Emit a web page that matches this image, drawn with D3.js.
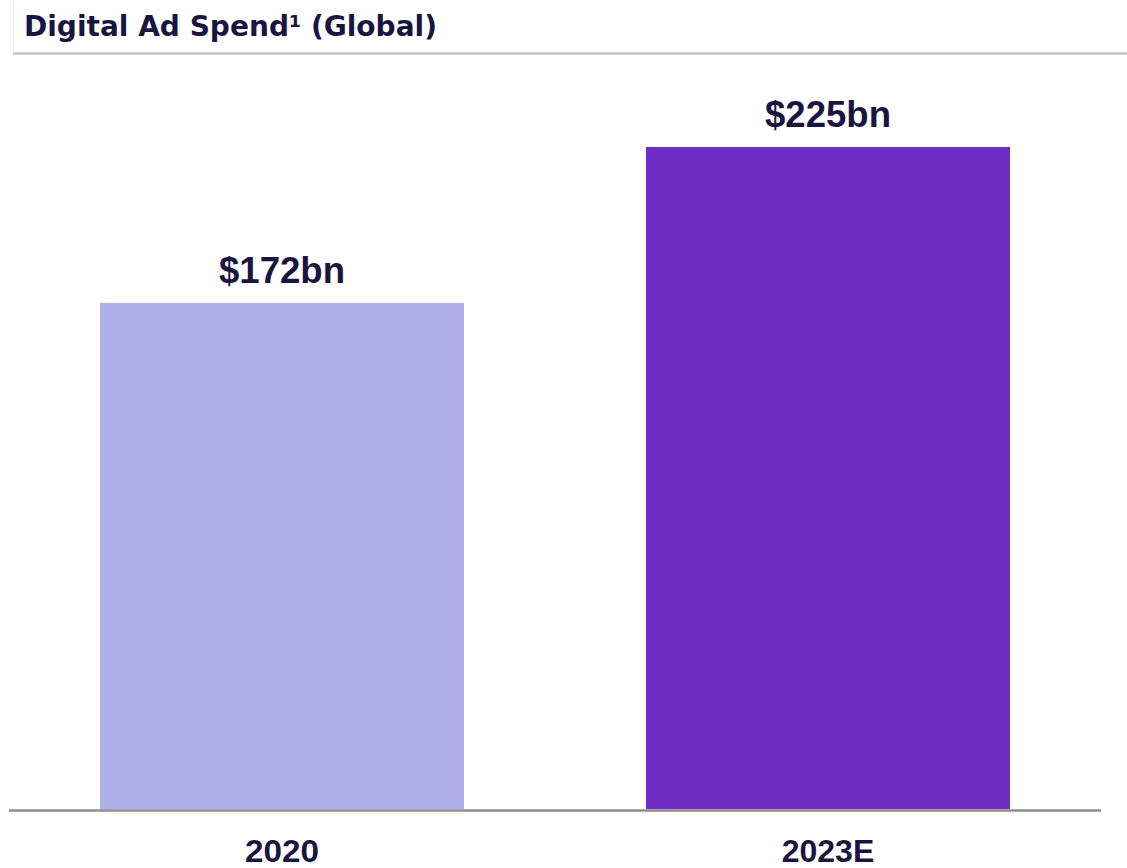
<!DOCTYPE html>
<html>
<head>
<meta charset="utf-8">
<script src="https://cdn.jsdelivr.net/npm/d3@7/dist/d3.min.js"></script>
<style>
  html, body { margin: 0; padding: 0; background: #fff; }
  svg { display: block; }
</style>
</head>
<body>
<svg id="chart" width="1127" height="868"></svg>
<script>
// Global digital ad spend, US$ billions
const categories = ["2020", "2023E"];
const values = [172, 225];
const valueLabels = ["$172bn", "$225bn"];
const barColors = ["#afaee6", "#6e2dc2"];
const titleText = "Digital Ad Spend\u00b9 (Global)";

const W = 1127, H = 868;
const baseY = 809;
const svg = d3.select("#chart");
const font = "'Liberation Sans', Arial, sans-serif";
const ink = "#1a1540";

// Header: title with a rule beneath
svg.append("line")
  .attr("x1", 13.5).attr("x2", 13.5).attr("y1", 0).attr("y2", 53)
  .attr("stroke", "#ececec").attr("stroke-width", 1);
svg.append("line")
  .attr("x1", 13).attr("x2", W).attr("y1", 53.5).attr("y2", 53.5)
  .attr("stroke", "#c4c4c4").attr("stroke-width", 2.5);
svg.append("text")
  .attr("x", 24).attr("y", 36)
  .attr("font-family", "'DejaVu Sans', sans-serif").attr("font-weight", "bold")
  .attr("font-size", 28).attr("fill", ink)
  .attr("textLength", 413).attr("lengthAdjust", "spacingAndGlyphs")
  .text(titleText);

const x = d3.scaleBand()
  .domain(categories)
  .range([9, 1101])
  .paddingInner(1 / 3)
  .paddingOuter(1 / 6);

const y = d3.scaleLinear()
  .domain([0, 225])
  .range([baseY, 147]);

const data = categories.map((c, i) => ({ c, v: values[i], label: valueLabels[i], color: barColors[i] }));

svg.selectAll("rect.bar")
  .data(data)
  .join("rect")
  .attr("class", "bar")
  .attr("x", d => x(d.c))
  .attr("width", x.bandwidth())
  .attr("y", d => y(d.v))
  .attr("height", d => baseY - y(d.v))
  .attr("fill", d => d.color);

svg.selectAll("text.val")
  .data(data)
  .join("text")
  .attr("class", "val")
  .attr("x", d => x(d.c) + x.bandwidth() / 2)
  .attr("y", d => y(d.v) - 20)
  .attr("text-anchor", "middle")
  .attr("font-family", font).attr("font-weight", "bold")
  .attr("font-size", 36).attr("fill", ink)
  .attr("textLength", 126).attr("lengthAdjust", "spacingAndGlyphs")
  .text(d => d.label);

// Category axis
const axis = svg.append("g")
  .attr("transform", `translate(0,${baseY})`)
  .call(d3.axisBottom(x).tickSize(0).tickPadding(0));
axis.select(".domain")
  .attr("d", "M9,1.5H1101")
  .attr("stroke", "#8c8c8c").attr("stroke-width", 2.5);
axis.selectAll(".tick text")
  .attr("y", 53)
  .attr("dy", 0)
  .attr("font-family", font).attr("font-weight", "bold")
  .attr("font-size", 31).attr("fill", ink)
  .attr("textLength", d => d.length * 18.5)
  .attr("lengthAdjust", "spacingAndGlyphs");
</script>
</body>
</html>
